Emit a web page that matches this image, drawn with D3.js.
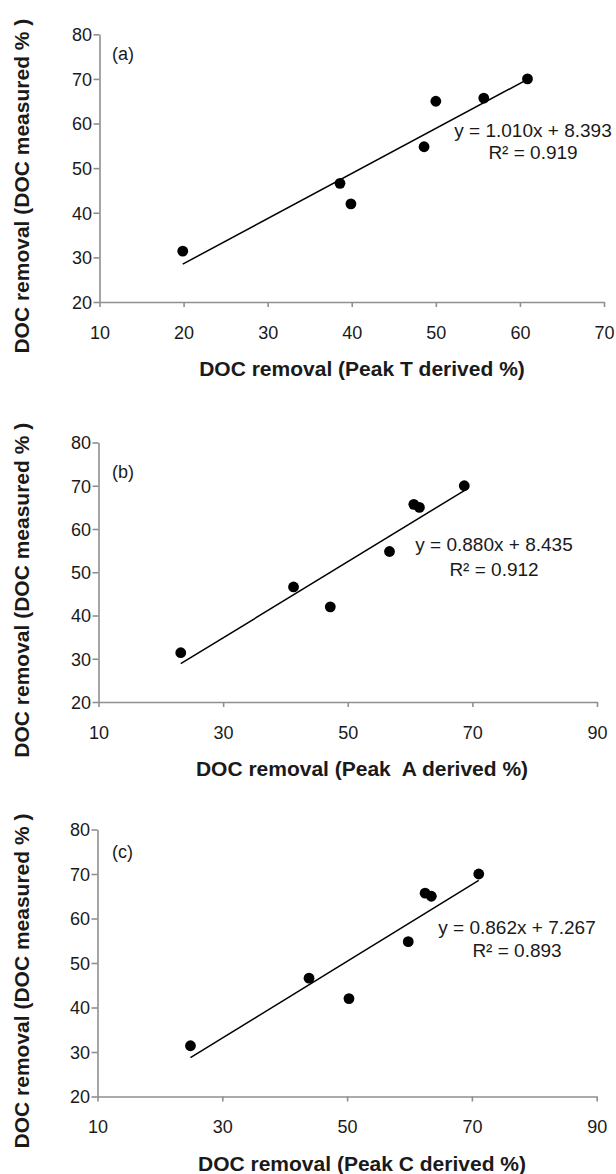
<!DOCTYPE html>
<html><head><meta charset="utf-8">
<script src="https://cdn.jsdelivr.net/npm/d3@7"></script>
<style>
body{margin:0;background:#fff;}
text{font-family:"Liberation Sans",Arial,sans-serif;}
</style></head>
<body><svg id="chart" width="616" height="1174"></svg>
<script>
// ---- data ----
const measured = [31.4, 46.6, 42.0, 54.8, 65.0, 65.7, 70.0];
const peakT = [19.9, 38.6, 39.9, 48.6, 50.0, 55.7, 60.9];
const peakA = [23.2, 41.3, 47.2, 56.7, 61.5, 60.6, 68.7];
const peakC = [24.9, 43.9, 50.3, 59.8, 63.5, 62.5, 71.1];
const panelLabels = ["(a)", "(b)", "(c)"];
const xTitles = ["DOC removal (Peak T derived %)", "DOC removal (Peak  A derived %)", "DOC removal (Peak C derived %)"];
const yTitle = "DOC removal (DOC measured % )";
const slopes = [1.010, 0.880, 0.862];
const intercepts = [8.393, 8.435, 7.267];
const r2 = ["0.919", "0.912", "0.893"];
const xTicksA = [10, 20, 30, 40, 50, 60, 70];
const xTicksBC = [10, 30, 50, 70, 90];
const yTicks = [20, 30, 40, 50, 60, 70, 80];

// ---- layout ----
const panels = [
  {xs: peakT, xDom: [10, 70], xTicks: xTicksA, L: 99.5, R: 604, T: 34.3, B: 302, lab: [112, 60], eq: [533, 137, 159]},
  {xs: peakA, xDom: [10, 90], xTicks: xTicksBC, L: 98.5, R: 597, T: 442.5, B: 702, lab: [112, 478], eq: [494, 551, 576]},
  {xs: peakC, xDom: [10, 90], xTicks: xTicksBC, L: 97.5, R: 596.7, T: 829.5, B: 1096.5, lab: [112, 858], eq: [517, 934, 957]}
];
const svg = d3.select("#chart");
const axisColor = "#8f8f8f";
const textColor = "#1a1a1a";

panels.forEach((p, i) => {
  const x = d3.scaleLinear().domain(p.xDom).range([p.L, p.R]);
  const y = d3.scaleLinear().domain([20, 80]).range([p.B, p.T]);
  const g = svg.append("g");

  const xa = g.append("g").attr("transform", `translate(0,${p.B})`)
    .call(d3.axisBottom(x).tickValues(p.xTicks).tickSize(5).tickSizeOuter(0).tickFormat(d3.format("d")));
  const ya = g.append("g").attr("transform", `translate(${p.L},0)`)
    .call(d3.axisLeft(y).tickValues(yTicks).tickSize(6).tickSizeOuter(0).tickFormat(d3.format("d")));
  [xa, ya].forEach(a => {
    a.selectAll("path.domain").attr("stroke", axisColor).attr("stroke-width", 1.6);
    a.selectAll(".tick line").attr("stroke", axisColor).attr("stroke-width", 1.6);
    a.selectAll(".tick text").attr("fill", textColor).style("font-size", "18px")
      .style("font-family", "'Liberation Sans', Arial, sans-serif");
  });
  xa.selectAll(".tick text").attr("y", 36.5).attr("dy", null);
  ya.selectAll(".tick text").attr("x", -7.5).attr("dy", "0.35em");

  // trend line
  const xmin = d3.min(p.xs), xmax = d3.max(p.xs);
  g.append("line")
    .attr("x1", x(xmin)).attr("y1", y(slopes[i] * xmin + intercepts[i]))
    .attr("x2", x(xmax)).attr("y2", y(slopes[i] * xmax + intercepts[i]))
    .attr("stroke", "#000").attr("stroke-width", 1.5);

  // points
  g.selectAll("circle").data(p.xs.map((v, j) => [v, measured[j]])).join("circle")
    .attr("cx", d => x(d[0])).attr("cy", d => y(d[1])).attr("r", 5.4).attr("fill", "#000");

  // panel label
  g.append("text").attr("x", p.lab[0]).attr("y", p.lab[1]).attr("fill", textColor)
    .style("font-size", "18px").text(panelLabels[i]);

  // equation
  g.append("text").attr("x", p.eq[0]).attr("y", p.eq[1]).attr("text-anchor", "middle")
    .attr("fill", textColor).style("font-size", "19px")
    .text(`y = ${slopes[i].toFixed(3)}x + ${intercepts[i].toFixed(3)}`);
  g.append("text").attr("x", p.eq[0]).attr("y", p.eq[2]).attr("text-anchor", "middle")
    .attr("fill", textColor).style("font-size", "19px")
    .text(`R² = ${r2[i]}`);

  // axis titles
  g.append("text").attr("x", 362).attr("y", p.B + 74).attr("text-anchor", "middle")
    .attr("fill", textColor).style("font-size", "21px").style("font-weight", "bold")
    .style("white-space", "pre")
    .text(xTitles[i]);
  const cy = (p.T + p.B) / 2 + 18;
  g.append("text").attr("transform", `translate(21,${cy}) rotate(-90)`)
    .attr("text-anchor", "middle").attr("dy", "0.36em")
    .attr("fill", textColor).style("font-size", "21px").style("font-weight", "bold")
    .style("white-space", "pre")
    .text(yTitle);
});
</script></body></html>
